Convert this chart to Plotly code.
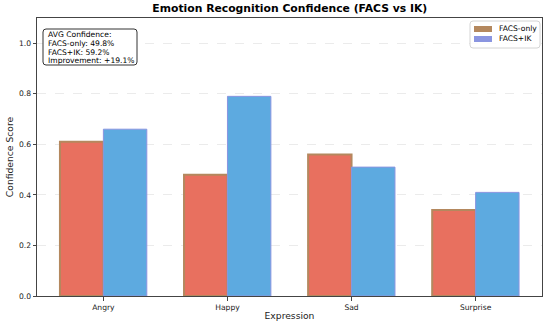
import plotly.graph_objects as go

categories = ["Angry", "Happy", "Sad", "Surprise"]
facs_only = [0.61, 0.48, 0.56, 0.34]
facs_ik = [0.66, 0.79, 0.51, 0.41]
y_ticks = [0.0, 0.2, 0.4, 0.6, 0.8, 1.0]
series_names = ["FACS-only", "FACS+IK"]

avg_f = sum(facs_only) / len(facs_only)
avg_ik = sum(facs_ik) / len(facs_ik)
impr = (avg_ik / avg_f - 1) * 100
info_lines = ["AVG Confidence:", f"FACS-only: {avg_f*100:.1f}%",
              f"FACS+IK: {avg_ik*100:.1f}%", f"Improvement: +{impr:.1f}%"]

FONT = "DejaVu Sans"
RED, RED_EDGE = "#E8705F", "#B4885E"
BLUE, BLUE_EDGE = "#5DAAE0", "#8A95E0"

L, R, T, B = 37, 8, 18, 28
W, H = 550, 324
PW, PH = W - L - R, H - T - B


def px(x):  # pixel x -> paper
    return (x - L) / PW


def py(y):  # pixel y -> paper
    return (H - B - y) / PH


def rounded_rect(x0, y0, x1, y1, r=3):
    rx, ry = r / PW, r / PH
    X0, X1, Y0, Y1 = px(x0), px(x1), py(y1), py(y0)
    return (f"M {X0+rx} {Y0} L {X1-rx} {Y0} Q {X1} {Y0} {X1} {Y0+ry} "
            f"L {X1} {Y1-ry} Q {X1} {Y1} {X1-rx} {Y1} L {X0+rx} {Y1} "
            f"Q {X0} {Y1} {X0} {Y1-ry} L {X0} {Y0+ry} Q {X0} {Y0} {X0+rx} {Y0} Z")


fig = go.Figure()
fig.add_trace(go.Bar(
    x=categories, y=facs_only, name=series_names[0], showlegend=False,
    marker=dict(color=RED, line=dict(color=RED_EDGE, width=2)),
))
fig.add_trace(go.Bar(
    x=categories, y=facs_ik, name=series_names[1], showlegend=False,
    marker=dict(color=BLUE, line=dict(color=BLUE_EDGE, width=1)),
))

fig.update_layout(
    width=W, height=H,
    barmode="group", bargap=0.3, bargroupgap=0,
    plot_bgcolor="white", paper_bgcolor="white",
    margin=dict(l=L, r=R, t=T, b=B),
    font=dict(family=FONT, size=7.6, color="#222"),
    title=dict(text="<b>Emotion Recognition Confidence (FACS vs IK)</b>",
               x=0.527, xanchor="center", y=0.985, yanchor="top",
               font=dict(size=10.8, color="black")),
    showlegend=False,
)
fig.update_xaxes(
    range=[-0.535, 3.535], automargin=False,
    title=dict(text="Expression", font=dict(size=9.2), standoff=1),
    showline=True, linecolor="#444", linewidth=1, mirror=True,
    ticks="outside", ticklen=3.5, tickcolor="#444",
    tickfont=dict(size=7.6),
    showgrid=False,
)
fig.update_yaxes(
    range=[0, 1.1], automargin=False,
    title=dict(text="Confidence Score", font=dict(size=9.2), standoff=3),
    tickvals=y_ticks, ticktext=[f"{v:.1f}" for v in y_ticks],
    showline=True, linecolor="#444", linewidth=1, mirror=True,
    ticks="outside", ticklen=3.5, tickcolor="#444",
    tickfont=dict(size=7.6),
    showgrid=True, gridcolor="rgba(0,0,0,0.08)", griddash="dash", gridwidth=0.8,
    zeroline=False,
)

# info text box (top-left)
fig.add_shape(type="path", xref="paper", yref="paper",
              path=rounded_rect(43, 29, 137, 65),
              line=dict(color="#333", width=1), fillcolor="white")
for i, line in enumerate(info_lines):
    fig.add_annotation(xref="paper", yref="paper", x=px(46), y=py(35 + 8.6 * i),
                       xanchor="left", yanchor="middle", text=line, showarrow=False,
                       font=dict(size=7.6, color="black"))

# legend box (top-right)
fig.add_shape(type="path", xref="paper", yref="paper",
              path=rounded_rect(470, 21, 540, 48),
              line=dict(color="#d4d4d4", width=1), fillcolor="rgba(255,255,255,0.85)")
for i, (nm, col) in enumerate(zip(series_names, [RED_EDGE, BLUE_EDGE])):
    yc = 29 + 10 * i
    fig.add_shape(type="rect", xref="paper", yref="paper",
                  x0=px(474), x1=px(492), y0=py(yc + 3), y1=py(yc - 3),
                  line=dict(width=0), fillcolor=col)
    fig.add_annotation(xref="paper", yref="paper", x=px(497), y=py(yc),
                       xanchor="left", yanchor="middle", text=nm, showarrow=False,
                       font=dict(size=7.6, color="black"))

fig.write_html("out.html", config={"displayModeBar": False},
               post_script="document.body.style.margin='0';")
